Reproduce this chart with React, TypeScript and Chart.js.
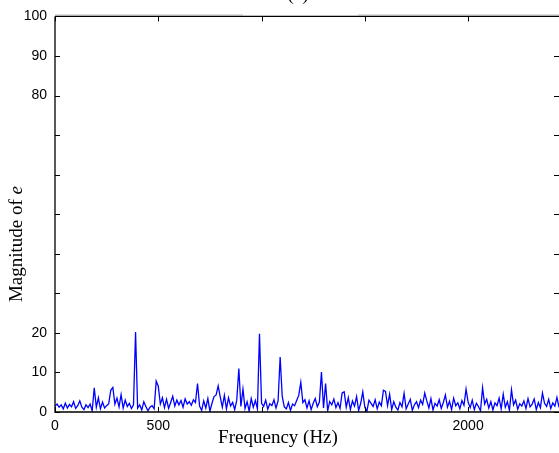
import React, { useEffect, useRef } from "react";
import { Chart, registerables } from "chart.js";

Chart.register(...registerables);

const stepHz = 10;
const magnitude: number[] = [
  1.5, 2.0, 1.2, 1.8, 0.8, 2.2, 1.0, 1.9, 1.3, 2.6,
  0.9, 1.6, 2.8, 1.2, 0.6, 1.8, 1.1, 2.0, 0.3, 6.1,
  1.2, 3.6, 0.8, 2.5, 1.0, 1.6, 2.1, 5.5, 6.2, 2.0,
  3.5, 1.3, 4.4, 1.0, 3.0, 1.4, 2.2, 0.9, 1.8, 20.2,
  1.0, 1.8, 0.5, 2.6, 1.4, 0.3, 1.2, 1.6, 0.8, 7.8,
  6.5, 2.0, 3.6, 1.1, 3.2, 0.9, 2.4, 4.0, 1.5, 3.0,
  1.8, 2.9, 1.2, 3.3, 2.0, 2.6, 1.7, 3.1, 2.4, 7.2,
  1.5, 0.4, 2.8, 1.0, 3.4, 0.2, 2.2, 3.9, 4.3, 6.6,
  3.8, 1.2, 4.2, 0.8, 3.6, 1.5, 2.4, 0.6, 3.0, 11.0,
  1.4, 5.8, 0.9, 2.6, 0.2, 3.4, 1.2, 2.9, 0.8, 19.8,
  2.2, 1.4, 3.0, 0.7, 2.1, 1.6, 3.1, 1.0, 2.8, 13.9,
  4.0, 1.3, 0.8, 2.4, 0.4, 2.0, 1.6, 2.9, 4.2, 7.5,
  2.4, 3.1, 1.0, 2.8, 0.6, 2.2, 3.4, 1.3, 2.5, 10.1,
  1.0, 7.2, 0.3, 2.6, 1.8, 3.3, 1.1, 2.4, 0.9, 4.8,
  5.1, 1.2, 3.6, 0.6, 2.8, 1.5, 3.9, 0.4, 2.2, 5.1,
  1.2, 0.2, 3.0, 2.2, 1.4, 3.1, 0.8, 2.5, 1.6, 5.5,
  5.2, 1.6, 4.5, 0.6, 2.6, 1.2, 0.5, 2.4, 1.3, 4.7,
  0.8, 2.0, 3.2, 0.4, 1.8, 2.6, 1.1, 3.0, 1.9, 4.8,
  2.8, 1.0, 3.4, 0.5, 2.2, 1.5, 3.1, 0.9, 2.4, 4.3,
  1.2, 2.7, 0.6, 3.5, 1.6, 2.3, 0.8, 2.9, 1.7, 5.8,
  2.5, 1.1, 3.0, 0.6, 2.2, 1.4, 0.3, 6.1, 2.0, 3.2,
  1.0, 2.6, 0.5, 2.3, 1.6, 3.5, 0.8, 4.5, 1.2, 2.6,
  0.4, 5.6, 1.8, 3.0, 0.7, 2.1, 1.5, 2.8, 0.9, 3.4,
  1.3, 2.0, 3.3, 0.6, 2.4, 1.1, 4.8, 2.2, 1.4, 3.2,
  0.9, 2.3, 1.5, 3.7, 1.2,
];
const frequencies: number[] = magnitude.map((_, i) => i * stepHz);

const xMin = 0;
const xMax = 2440;
const xTickStep = 500;
const xLabelled = [0, 500, 2000];
const yMin = 0;
const yMax = 100;
const yTickStep = 10;
const yLabelled = [0, 10, 20, 80, 90, 100];

const frame = {
  id: "frame",
  afterDatasetsDraw(chart: any) {
    const { ctx, chartArea } = chart;
    const { left, right, top, bottom } = chartArea;
    const xs = chart.scales.x;
    const ys = chart.scales.y;
    ctx.save();
    ctx.strokeStyle = "#c8c8c8";
    ctx.lineWidth = 1;
    ctx.beginPath();
    ctx.moveTo(left, top - 1.5);
    ctx.lineTo(243, top - 1.5);
    ctx.moveTo(358, top - 1.5);
    ctx.lineTo(right, top - 1.5);
    ctx.stroke();

    ctx.strokeStyle = "#000";
    ctx.lineWidth = 1.3;
    ctx.beginPath();
    ctx.moveTo(left, top);
    ctx.lineTo(right, top);
    ctx.moveTo(left, top);
    ctx.lineTo(left, bottom);
    ctx.lineTo(right, bottom);
    ctx.stroke();

    ctx.lineWidth = 1;
    const tl = 5;
    ctx.beginPath();
    for (let v = xMin; v <= xMax; v += xTickStep) {
      const px = Math.round(xs.getPixelForValue(v)) + 0.5;
      ctx.moveTo(px, bottom);
      ctx.lineTo(px, bottom - tl);
      ctx.moveTo(px, top);
      ctx.lineTo(px, top + tl);
    }
    for (let v = yMin; v <= yMax; v += yTickStep) {
      const py = Math.round(ys.getPixelForValue(v)) + 0.5;
      ctx.moveTo(left, py);
      ctx.lineTo(left + tl, py);
      ctx.moveTo(right, py);
      ctx.lineTo(right - tl, py);
    }
    ctx.stroke();

    ctx.fillStyle = "#000";
    ctx.font = '19px "Liberation Serif"';
    ctx.textAlign = "center";
    ctx.textBaseline = "middle";
    ctx.fillText("Frequency (Hz)", 278, 438);

    ctx.textBaseline = "alphabetic";
    ctx.fillText("(a)", 298, 0);

    ctx.translate(17, 244);
    ctx.rotate(-Math.PI / 2);
    ctx.textBaseline = "middle";
    const main = "Magnitude of ";
    ctx.font = '19px "Liberation Serif"';
    const w1 = ctx.measureText(main).width;
    ctx.font = 'italic 19px "Liberation Serif"';
    const w2 = ctx.measureText("e").width;
    const start = -(w1 + w2) / 2;
    ctx.textAlign = "left";
    ctx.font = '19px "Liberation Serif"';
    ctx.fillText(main, start, 0);
    ctx.font = 'italic 19px "Liberation Serif"';
    ctx.fillText("e", start + w1, 0);
    ctx.restore();
  },
};

export default function App() {
  const ref = useRef<HTMLCanvasElement | null>(null);
  useEffect(() => {
    if (!ref.current) return;
    const chart = new Chart(ref.current, {
      type: "line",
      data: {
        datasets: [
          {
            data: frequencies.map((f, i) => ({ x: f, y: magnitude[i] })),
            borderColor: "#0000ff",
            borderWidth: 1.3,
            pointRadius: 0,
            tension: 0,
            fill: false,
          },
        ],
      },
      options: {
        animation: false,
        responsive: true,
        maintainAspectRatio: false,
        layout: { padding: { top: 14, right: 0, left: 0, bottom: 0 } },
        plugins: {
          legend: { display: false },
          tooltip: { enabled: false },
        },
        scales: {
          x: {
            type: "linear",
            min: xMin,
            max: xMax,
            grid: { display: false, drawTicks: false },
            border: { display: false },
            afterFit: (s: any) => {
              s.height = 41;
            },
            afterBuildTicks: (s: any) => {
              const t: any[] = [];
              for (let v = xMin; v <= xMax; v += xTickStep) t.push({ value: v });
              s.ticks = t;
            },
            ticks: {
              padding: 6,
              color: "#000",
              font: { family: "Liberation Sans", size: 14 },
              maxRotation: 0,
              autoSkip: false,
              callback: (v: any) => (xLabelled.includes(Number(v)) ? String(v) : ""),
            },
          },
          y: {
            type: "linear",
            min: yMin,
            max: yMax,
            grid: { display: false, drawTicks: false },
            border: { display: false },
            afterFit: (s: any) => {
              s.width = 55;
            },
            ticks: {
              stepSize: yTickStep,
              padding: 8,
              color: "#000",
              autoSkip: false,
              font: { family: "Liberation Sans", size: 14 },
              callback: (v: any) => (yLabelled.includes(Number(v)) ? String(v) : ""),
            },
          },
        },
      },
      plugins: [frame],
    });
    return () => chart.destroy();
  }, []);
  return (
    <div style={{ position: "absolute", left: 0, top: 0, width: 559, height: 453, background: "#fff" }}>
      <canvas ref={ref} />
    </div>
  );
}
